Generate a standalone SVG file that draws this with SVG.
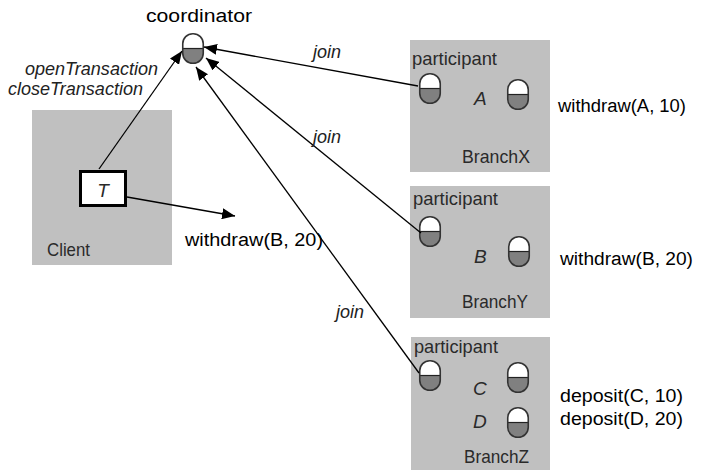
<svg xmlns="http://www.w3.org/2000/svg" xmlns:xlink="http://www.w3.org/1999/xlink" width="701" height="470" viewBox="0 0 701 470">
  <style>
    .box { fill: #c0c0c0; }
    .lbl { font-family: "Liberation Sans Narrow", "Liberation Sans", Arial, sans-serif; font-size: 19px; fill: #2a2a2a; }
    .obj { font-family: "Liberation Sans Narrow", "Liberation Sans", Arial, sans-serif; font-size: 19px; font-style: italic; fill: #2a2a2a; }
    .op { font-family: "Liberation Sans", Arial, sans-serif; font-size: 18px; fill: #000; }
    .ital { font-family: "Liberation Sans", Arial, sans-serif; font-size: 18px; font-style: italic; fill: #222; }
    .conn { stroke: #000; stroke-width: 1.3; fill: none; marker-end: url(#head); }
  </style>
  <defs>
    <marker id="head" markerUnits="userSpaceOnUse" markerWidth="14" markerHeight="11" refX="13" refY="5.5" orient="auto">
      <path d="M0,0 L13,5.5 L0,11 Z" fill="#000"/>
    </marker>
    <!-- recoverable object: white upper half, grey lower half -->
    <g id="pill">
      <rect x="0.75" y="0.75" width="20.5" height="29.5" rx="10" fill="#fff"/>
      <path d="M0.75,15.5 H21.25 V20.25 A10,10 0 0 1 11.25,30.25 H10.75 A10,10 0 0 1 0.75,20.25 Z" fill="#808080"/>
      <line x1="0.75" y1="15.5" x2="21.25" y2="15.5" stroke="#222" stroke-width="1.2"/>
      <rect x="0.75" y="0.75" width="20.5" height="29.5" rx="10" fill="none" stroke="#333" stroke-width="1.6"/>
    </g>
  </defs>

  <!-- coordinator -->
  <g id="coordinator">
    <text class="op" x="146" y="22" font-size="17" textLength="106" lengthAdjust="spacingAndGlyphs">coordinator</text>
    <use xlink:href="#pill" x="182" y="33"/>
  </g>

  <!-- client -->
  <g id="client">
    <rect class="box" x="32" y="110" width="140" height="155"/>
    <text class="lbl" x="47" y="256" textLength="43" lengthAdjust="spacingAndGlyphs">Client</text>
    <rect x="80.5" y="171.5" width="45" height="34" fill="#fff" stroke="#000" stroke-width="3"/>
    <text class="obj" x="103" y="197" text-anchor="middle">T</text>
  </g>

  <!-- branch X -->
  <g id="branchX">
    <rect class="box" x="410" y="40" width="140" height="132"/>
    <text class="lbl" x="412" y="65" textLength="85" lengthAdjust="spacingAndGlyphs">participant</text>
    <use xlink:href="#pill" x="419" y="73"/>
    <text class="obj" x="474" y="105">A</text>
    <use xlink:href="#pill" x="507" y="79"/>
    <text class="lbl" x="462" y="163" textLength="68" lengthAdjust="spacingAndGlyphs">BranchX</text>
  </g>

  <!-- branch Y -->
  <g id="branchY">
    <rect class="box" x="410" y="186" width="140" height="132"/>
    <text class="lbl" x="413" y="205" textLength="85" lengthAdjust="spacingAndGlyphs">participant</text>
    <use xlink:href="#pill" x="419" y="216"/>
    <text class="obj" x="474" y="263">B</text>
    <use xlink:href="#pill" x="508" y="236"/>
    <text class="lbl" x="462" y="308" textLength="66" lengthAdjust="spacingAndGlyphs">BranchY</text>
  </g>

  <!-- branch Z -->
  <g id="branchZ">
    <rect class="box" x="411" y="337" width="139" height="133"/>
    <text class="lbl" x="414" y="353" textLength="84" lengthAdjust="spacingAndGlyphs">participant</text>
    <use xlink:href="#pill" x="419" y="360"/>
    <text class="obj" x="473" y="395">C</text>
    <use xlink:href="#pill" x="507" y="362"/>
    <text class="obj" x="473" y="428">D</text>
    <use xlink:href="#pill" x="507" y="407"/>
    <text class="lbl" x="464" y="463" textLength="65" lengthAdjust="spacingAndGlyphs">BranchZ</text>
  </g>

  <!-- operations -->
  <g id="operations">
    <text class="op" x="558" y="112" textLength="128" lengthAdjust="spacingAndGlyphs">withdraw(A, 10)</text>
    <text class="op" x="560" y="265" textLength="133" lengthAdjust="spacingAndGlyphs">withdraw(B, 20)</text>
    <text class="op" x="560" y="402" textLength="123" lengthAdjust="spacingAndGlyphs">deposit(C, 10)</text>
    <text class="op" x="560" y="425" textLength="123" lengthAdjust="spacingAndGlyphs">deposit(D, 20)</text>
    <text class="op" x="185" y="246" textLength="138" lengthAdjust="spacingAndGlyphs">withdraw(B, 20)</text>
  </g>

  <!-- connectors -->
  <g id="connectors">
    <line class="conn" x1="99" y1="169" x2="182" y2="51"/>
    <line class="conn" x1="127" y1="197" x2="235" y2="216"/>
    <line class="conn" x1="418" y1="86" x2="204" y2="47"/>
    <line class="conn" x1="421" y1="233" x2="206" y2="58"/>
    <line class="conn" x1="419" y1="373" x2="196" y2="67"/>
    <text class="ital" x="158" y="75" text-anchor="end" textLength="133" lengthAdjust="spacingAndGlyphs">openTransaction</text>
    <text class="ital" x="143" y="95" text-anchor="end" textLength="135" lengthAdjust="spacingAndGlyphs">closeTransaction</text>
    <text class="ital" x="313" y="58" font-size="19" textLength="28" lengthAdjust="spacingAndGlyphs">join</text>
    <text class="ital" x="313" y="143" font-size="19" textLength="28" lengthAdjust="spacingAndGlyphs">join</text>
    <text class="ital" x="336" y="318" font-size="19" textLength="28" lengthAdjust="spacingAndGlyphs">join</text>
  </g>
</svg>
